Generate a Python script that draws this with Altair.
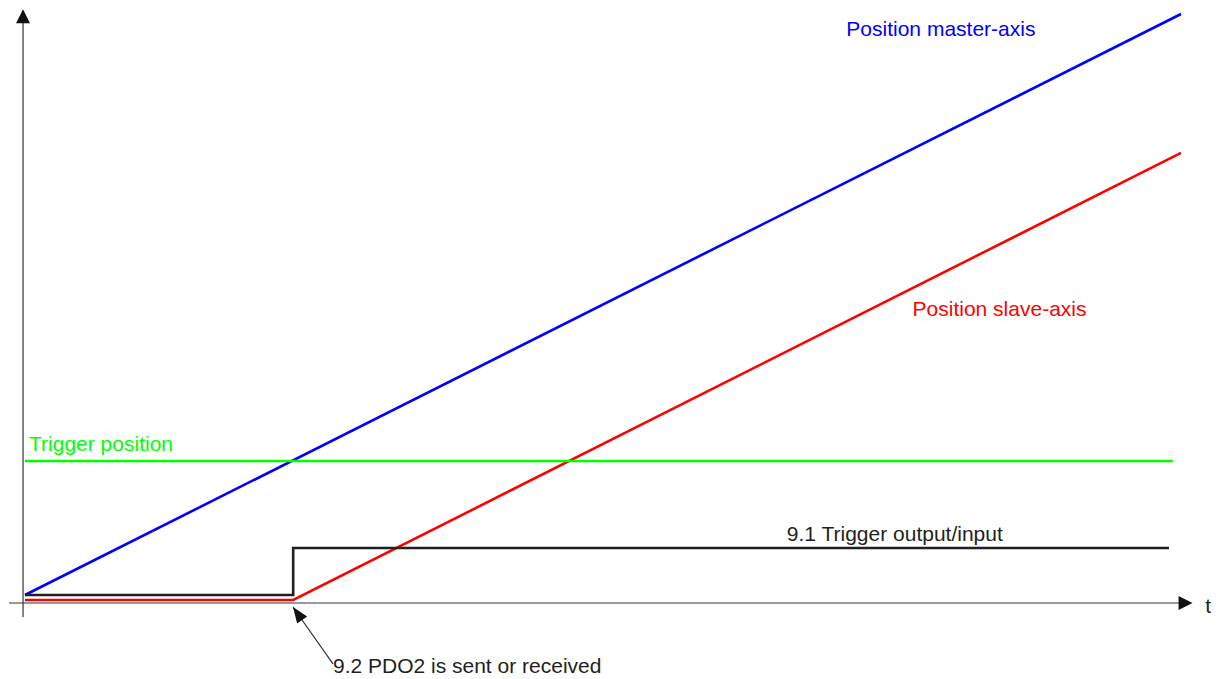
import altair as alt
import pandas as pd

# ---- data (t in time units, position in position units) ----
master_t = [0.0, 100.0]
master_pos = [0.85, 100.0]

slave_t = [0.0, 23.2, 100.0]
slave_pos = [0.0, 0.0, 76.3]

trigger_out_t = [0.0, 23.2, 23.2, 98.96]
trigger_out_pos = [0.85, 0.85, 8.87, 8.87]

trigger_level_t = [0.0, 99.3]
trigger_level_pos = [23.72, 23.72]

labels = ["Position master-axis", "Position slave-axis", "Trigger position",
          "9.1 Trigger output/input", "9.2 PDO2 is sent or received", "t"]
label_t = [71.05, 76.78, 0.35, 65.9, 26.64, 102.1]
label_pos = [96.25, 48.46, 25.43, 10.07, -12.46, -2.22]
label_color = ["#0000ff", "#ff0000", "#00ff00", "#231f20", "#231f20", "#231f20"]

# axes of the diagram
xaxis_t = [-1.38, 100.0]
xaxis_pos = [-0.51, -0.51]
yaxis_t = [-0.17, -0.17]
yaxis_pos = [-2.9, 99.0]

# annotation arrow (tail at text, tip at event)
annot_t = [26.64, 23.18]
annot_pos = [-10.9, -1.19]

X_DOMAIN = [-1.4706, 102.595]
Y_DOMAIN = [-13.481, 101.024]

series_names = ["master", "slave", "trigger_out", "trigger_level"]
series_colors = ["#0000ff", "#ff0000", "#231f20", "#00ff00"]

rows = []
for name, ts, ps in [("master", master_t, master_pos), ("slave", slave_t, slave_pos),
                     ("trigger_out", trigger_out_t, trigger_out_pos),
                     ("trigger_level", trigger_level_t, trigger_level_pos)]:
    for i, (t, p) in enumerate(zip(ts, ps)):
        rows.append({"series": name, "t": t, "pos": p, "order": i})
lines_df = pd.DataFrame(rows)

xs = alt.Scale(domain=X_DOMAIN, nice=False, zero=False)
ys = alt.Scale(domain=Y_DOMAIN, nice=False, zero=False)

base_x = lambda f="t": alt.X(f"{f}:Q", scale=xs, axis=None)
base_y = lambda f="pos": alt.Y(f"{f}:Q", scale=ys, axis=None)

axes_rows = []
for i, (t, p) in enumerate(zip(xaxis_t, xaxis_pos)):
    axes_rows.append({"ax": "x", "t": t, "pos": p, "order": i})
for i, (t, p) in enumerate(zip(yaxis_t, yaxis_pos)):
    axes_rows.append({"ax": "y", "t": t, "pos": p, "order": i})
for i, (t, p) in enumerate(zip(annot_t, annot_pos)):
    axes_rows.append({"ax": "annot", "t": t, "pos": p, "order": i})
axes_df = pd.DataFrame(axes_rows)

axis_lines = alt.Chart(axes_df).mark_line(strokeWidth=1.2, color="#333333").encode(
    x=base_x(), y=base_y(), detail="ax:N", order="order:Q"
)

# arrow heads (tip located at the data point)
head_up = alt.Chart(pd.DataFrame({"t": [yaxis_t[0]], "pos": [100.8]})).mark_point(
    shape="M0,0L-0.5,1L0.5,1Z", size=784, filled=True, color="#111111", opacity=1
).encode(x=base_x(), y=base_y())

head_right = alt.Chart(pd.DataFrame({"t": [101.0], "pos": [xaxis_pos[0]]})).mark_point(
    shape="M0,0L-1,-0.5L-1,0.5Z", size=784, filled=True, color="#111111", opacity=1
).encode(x=base_x(), y=base_y())

head_annot = alt.Chart(pd.DataFrame({"t": [annot_t[1]], "pos": [annot_pos[1]]})).mark_point(
    shape="M0,0L-0.38,1L0.38,1Z", size=1024, filled=True, color="#111111", opacity=1,
    angle=325
).encode(x=base_x(), y=base_y())

series_lines = alt.Chart(lines_df).mark_line(strokeWidth=2.6, strokeJoin="miter").encode(
    x=base_x(), y=base_y(),
    color=alt.Color("series:N", scale=alt.Scale(domain=series_names, range=series_colors), legend=None),
    detail="series:N",
    order="order:Q",
)

labels_df = pd.DataFrame({"label": labels, "t": label_t, "pos": label_pos, "c": label_color})
texts = alt.Chart(labels_df).mark_text(
    align="left", baseline="alphabetic", font="Liberation Sans", fontSize=21
).encode(
    x=base_x(), y=base_y(), text="label:N", color=alt.Color("c:N", scale=None)
)

chart = alt.layer(axis_lines, series_lines, head_up, head_right, head_annot, texts).properties(
    width=1203, height=671, padding=0, autosize=alt.AutoSizeParams(type="none")
).configure_view(stroke=None)

chart.save("out.html", embed_options={"renderer": "svg", "actions": False})
